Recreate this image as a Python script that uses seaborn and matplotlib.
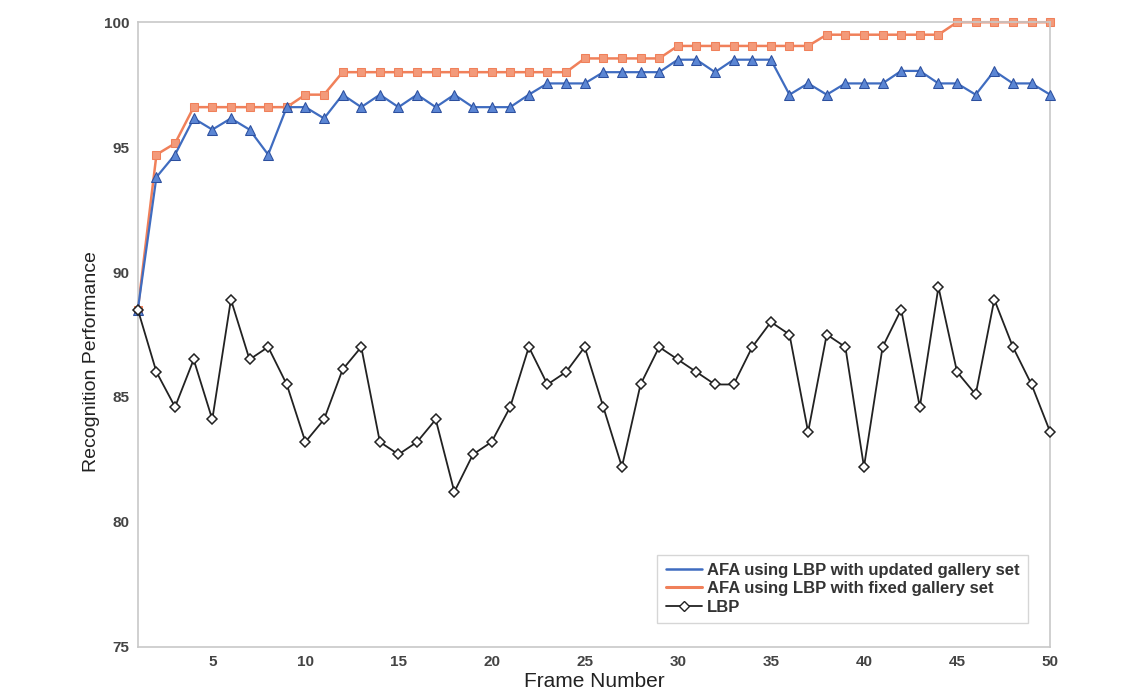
import matplotlib
matplotlib.use('Agg')
import matplotlib.pyplot as plt
from matplotlib.lines import Line2D
import numpy as np
import pandas as pd
import seaborn as sns

# 数据
frames = list(range(1, 51))

afa_updated = [88.5, 93.8, 94.7, 96.15, 95.7, 96.15, 95.7, 94.7, 96.6, 96.6,
               96.15, 97.1, 96.6, 97.1, 96.6, 97.1, 96.6, 97.1, 96.6, 96.6,
               96.6, 97.1, 97.55, 97.55, 97.55, 98.0, 98.0, 98.0, 98.0, 98.5,
               98.5, 98.0, 98.5, 98.5, 98.5, 97.1, 97.55, 97.1, 97.55, 97.55,
               97.55, 98.05, 98.05, 97.55, 97.55, 97.1, 98.05, 97.55, 97.55, 97.1]

afa_fixed = [88.5, 94.7, 95.15, 96.6, 96.6, 96.6, 96.6, 96.6, 96.6, 97.1,
             97.1, 98.0, 98.0, 98.0, 98.0, 98.0, 98.0, 98.0, 98.0, 98.0,
             98.0, 98.0, 98.0, 98.0, 98.55, 98.55, 98.55, 98.55, 98.55, 99.05,
             99.05, 99.05, 99.05, 99.05, 99.05, 99.05, 99.05, 99.5, 99.5, 99.5,
             99.5, 99.5, 99.5, 99.5, 100.0, 100.0, 100.0, 100.0, 100.0, 100.0]

lbp = [88.5, 86.0, 84.6, 86.5, 84.1, 88.9, 86.5, 87.0, 85.5, 83.2,
       84.1, 86.1, 87.0, 83.2, 82.7, 83.2, 84.1, 81.2, 82.7, 83.2,
       84.6, 87.0, 85.5, 86.0, 87.0, 84.6, 82.2, 85.5, 87.0, 86.5,
       86.0, 85.5, 85.5, 87.0, 88.0, 87.5, 83.6, 87.5, 87.0, 82.2,
       87.0, 88.5, 84.6, 89.4, 86.0, 85.1, 88.9, 87.0, 85.5, 83.6]

labels = ['AFA using LBP with updated gallery set',
          'AFA using LBP with fixed gallery set',
          'LBP']
x_ticks = [5, 10, 15, 20, 25, 30, 35, 40, 45, 50]
y_ticks = [75, 80, 85, 90, 95, 100]

blue = '#3f6cc0'
orange = '#f0805a'
black = '#222222'

sns.set_theme(style='white')
plt.rcParams['font.family'] = ['Liberation Sans', 'DejaVu Sans']

fig = plt.figure(figsize=(11.39, 6.94), dpi=100)
ax = fig.add_axes([0.121, 0.068, 0.801, 0.900])

# 三条曲线
sns.lineplot(x=frames, y=afa_updated, ax=ax, color=blue, lw=1.6,
             marker='^', markersize=6.5, markeredgecolor='#2c4f9e',
             markerfacecolor='#5b86d4', clip_on=False, zorder=3)
sns.lineplot(x=frames, y=afa_fixed, ax=ax, color=orange, lw=1.8,
             marker='s', markersize=6, markeredgecolor=orange,
             markerfacecolor='#f39a7a', clip_on=False, zorder=2)
sns.lineplot(x=frames, y=lbp, ax=ax, color=black, lw=1.3,
             marker='D', markersize=5.5, markeredgecolor=black,
             markerfacecolor='white', markeredgewidth=1.1, clip_on=False, zorder=4)

ax.set_xlim(1, 50)
ax.set_ylim(75, 100)
ax.set_xticks(x_ticks)
ax.set_yticks(y_ticks)
ax.tick_params(axis='both', labelsize=11, colors='#444444', length=0, pad=6)
for t in ax.get_xticklabels() + ax.get_yticklabels():
    t.set_fontweight('bold')
ax.set_xlabel('Frame Number', fontsize=15, color='#222222', labelpad=2)
ax.set_ylabel('Recognition Performance', fontsize=14, color='#222222')
ax.yaxis.set_label_coords(-0.041, 0.456)

for s in ax.spines.values():
    s.set_color('#c8c8c8')
    s.set_linewidth(1.2)

# 图例
handles = [Line2D([], [], color=blue, lw=1.8),
           Line2D([], [], color=orange, lw=2.2),
           Line2D([], [], color=black, lw=1.3, marker='D', markersize=5,
                  markerfacecolor='white', markeredgecolor=black)]
leg = ax.legend(handles, labels, loc='lower right', bbox_to_anchor=(0.985, 0.025),
                fontsize=12, frameon=True, fancybox=False, handlelength=2.2,
                handletextpad=0.3, labelspacing=0.2, borderpad=0.5)
leg.get_frame().set_edgecolor('#cccccc')
leg.get_frame().set_linewidth(1.0)
for t in leg.get_texts():
    t.set_fontweight('bold')
    t.set_color('#333333')

plt.savefig('out.png', dpi=100)
plt.close()
